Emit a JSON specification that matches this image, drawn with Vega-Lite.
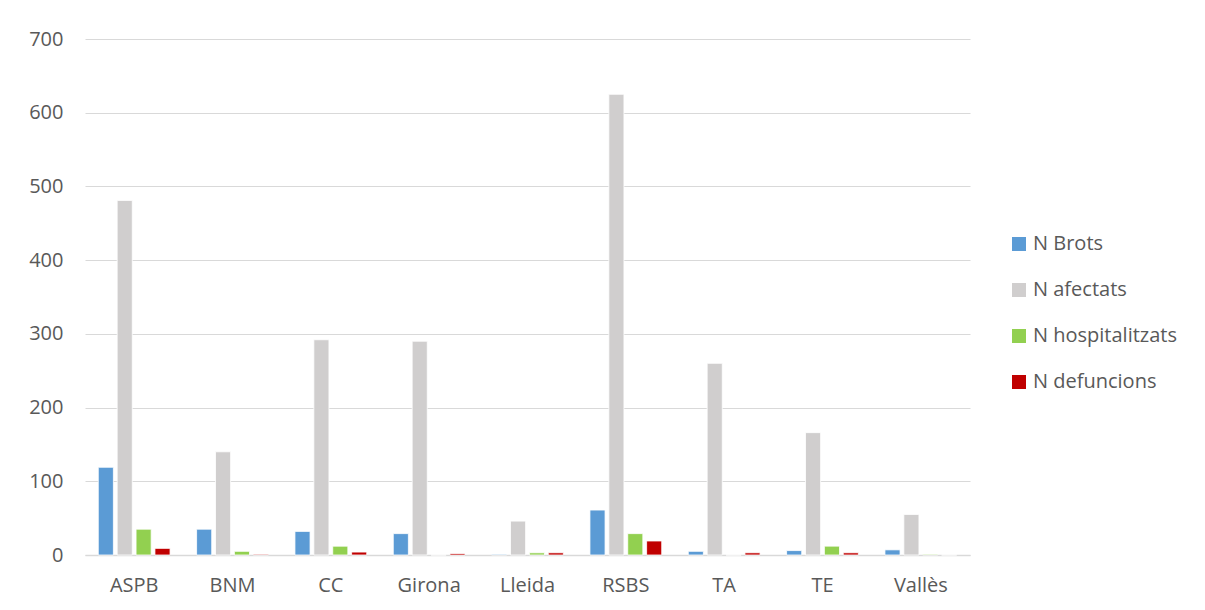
{
  "$schema": "https://vega.github.io/schema/vega-lite/v6.json",
  "width": 885,
  "height": 516,
  "autosize": {"type": "none"},
  "padding": {"left": 85, "top": 39, "right": 235, "bottom": 55},
  "background": "white",
  "config": {
    "view": {"stroke": null},
    "font": "Open Sans"
  },
  "data": {
    "values": [
      {"region": "ASPB", "serie": "N Brots", "value": 119},
      {"region": "ASPB", "serie": "N afectats", "value": 481},
      {"region": "ASPB", "serie": "N hospitalitzats", "value": 35},
      {"region": "ASPB", "serie": "N defuncions", "value": 9},
      {"region": "BNM", "serie": "N Brots", "value": 35},
      {"region": "BNM", "serie": "N afectats", "value": 140},
      {"region": "BNM", "serie": "N hospitalitzats", "value": 5},
      {"region": "BNM", "serie": "N defuncions", "value": 1},
      {"region": "CC", "serie": "N Brots", "value": 32},
      {"region": "CC", "serie": "N afectats", "value": 292},
      {"region": "CC", "serie": "N hospitalitzats", "value": 12},
      {"region": "CC", "serie": "N defuncions", "value": 4},
      {"region": "Girona", "serie": "N Brots", "value": 29},
      {"region": "Girona", "serie": "N afectats", "value": 290},
      {"region": "Girona", "serie": "N hospitalitzats", "value": 0},
      {"region": "Girona", "serie": "N defuncions", "value": 2},
      {"region": "Lleida", "serie": "N Brots", "value": 1},
      {"region": "Lleida", "serie": "N afectats", "value": 46},
      {"region": "Lleida", "serie": "N hospitalitzats", "value": 3},
      {"region": "Lleida", "serie": "N defuncions", "value": 3},
      {"region": "RSBS", "serie": "N Brots", "value": 61},
      {"region": "RSBS", "serie": "N afectats", "value": 625},
      {"region": "RSBS", "serie": "N hospitalitzats", "value": 29},
      {"region": "RSBS", "serie": "N defuncions", "value": 19},
      {"region": "TA", "serie": "N Brots", "value": 5},
      {"region": "TA", "serie": "N afectats", "value": 260},
      {"region": "TA", "serie": "N hospitalitzats", "value": 0},
      {"region": "TA", "serie": "N defuncions", "value": 3},
      {"region": "TE", "serie": "N Brots", "value": 6},
      {"region": "TE", "serie": "N afectats", "value": 166},
      {"region": "TE", "serie": "N hospitalitzats", "value": 12},
      {"region": "TE", "serie": "N defuncions", "value": 3},
      {"region": "Vallès", "serie": "N Brots", "value": 7},
      {"region": "Vallès", "serie": "N afectats", "value": 55},
      {"region": "Vallès", "serie": "N hospitalitzats", "value": 1},
      {"region": "Vallès", "serie": "N defuncions", "value": 0}
    ]
  },
  "mark": {"type": "bar", "stroke": "white", "strokeWidth": 0.8},
  "encoding": {
    "x": {
      "field": "region",
      "type": "nominal",
      "sort": null,
      "scale": {"paddingInner": 0.27, "paddingOuter": 0.135},
      "axis": {
        "title": null,
        "labelAngle": 0,
        "labelFontSize": 20,
        "labelColor": "#595959",
        "labelPadding": 20,
        "ticks": false,
        "domainColor": "#D9D9D9",
        "domainWidth": 1.5
      }
    },
    "xOffset": {
      "field": "serie",
      "type": "nominal",
      "sort": ["N Brots", "N afectats", "N hospitalitzats", "N defuncions"],
      "scale": {"paddingInner": 0.2, "paddingOuter": 0}
    },
    "y": {
      "field": "value",
      "type": "quantitative",
      "scale": {"domain": [0, 700], "nice": false},
      "axis": {
        "title": null,
        "values": [0, 100, 200, 300, 400, 500, 600, 700],
        "labelFontSize": 20,
        "labelColor": "#595959",
        "labelPadding": 22,
        "ticks": false,
        "domain": false,
        "gridColor": "#D9D9D9",
        "gridWidth": 1.2
      }
    },
    "color": {
      "field": "serie",
      "type": "nominal",
      "scale": {
        "domain": ["N Brots", "N afectats", "N hospitalitzats", "N defuncions"],
        "range": ["#5B9BD5", "#D0CECE", "#92D050", "#C00000"]
      },
      "legend": {
        "title": null,
        "orient": "none",
        "legendX": 924,
        "legendY": 195,
        "symbolType": "square",
        "symbolSize": 196,
        "symbolStrokeWidth": 0,
        "labelFontSize": 20,
        "labelColor": "#595959",
        "labelOffset": 4,
        "rowPadding": 26
      }
    }
  }
}
